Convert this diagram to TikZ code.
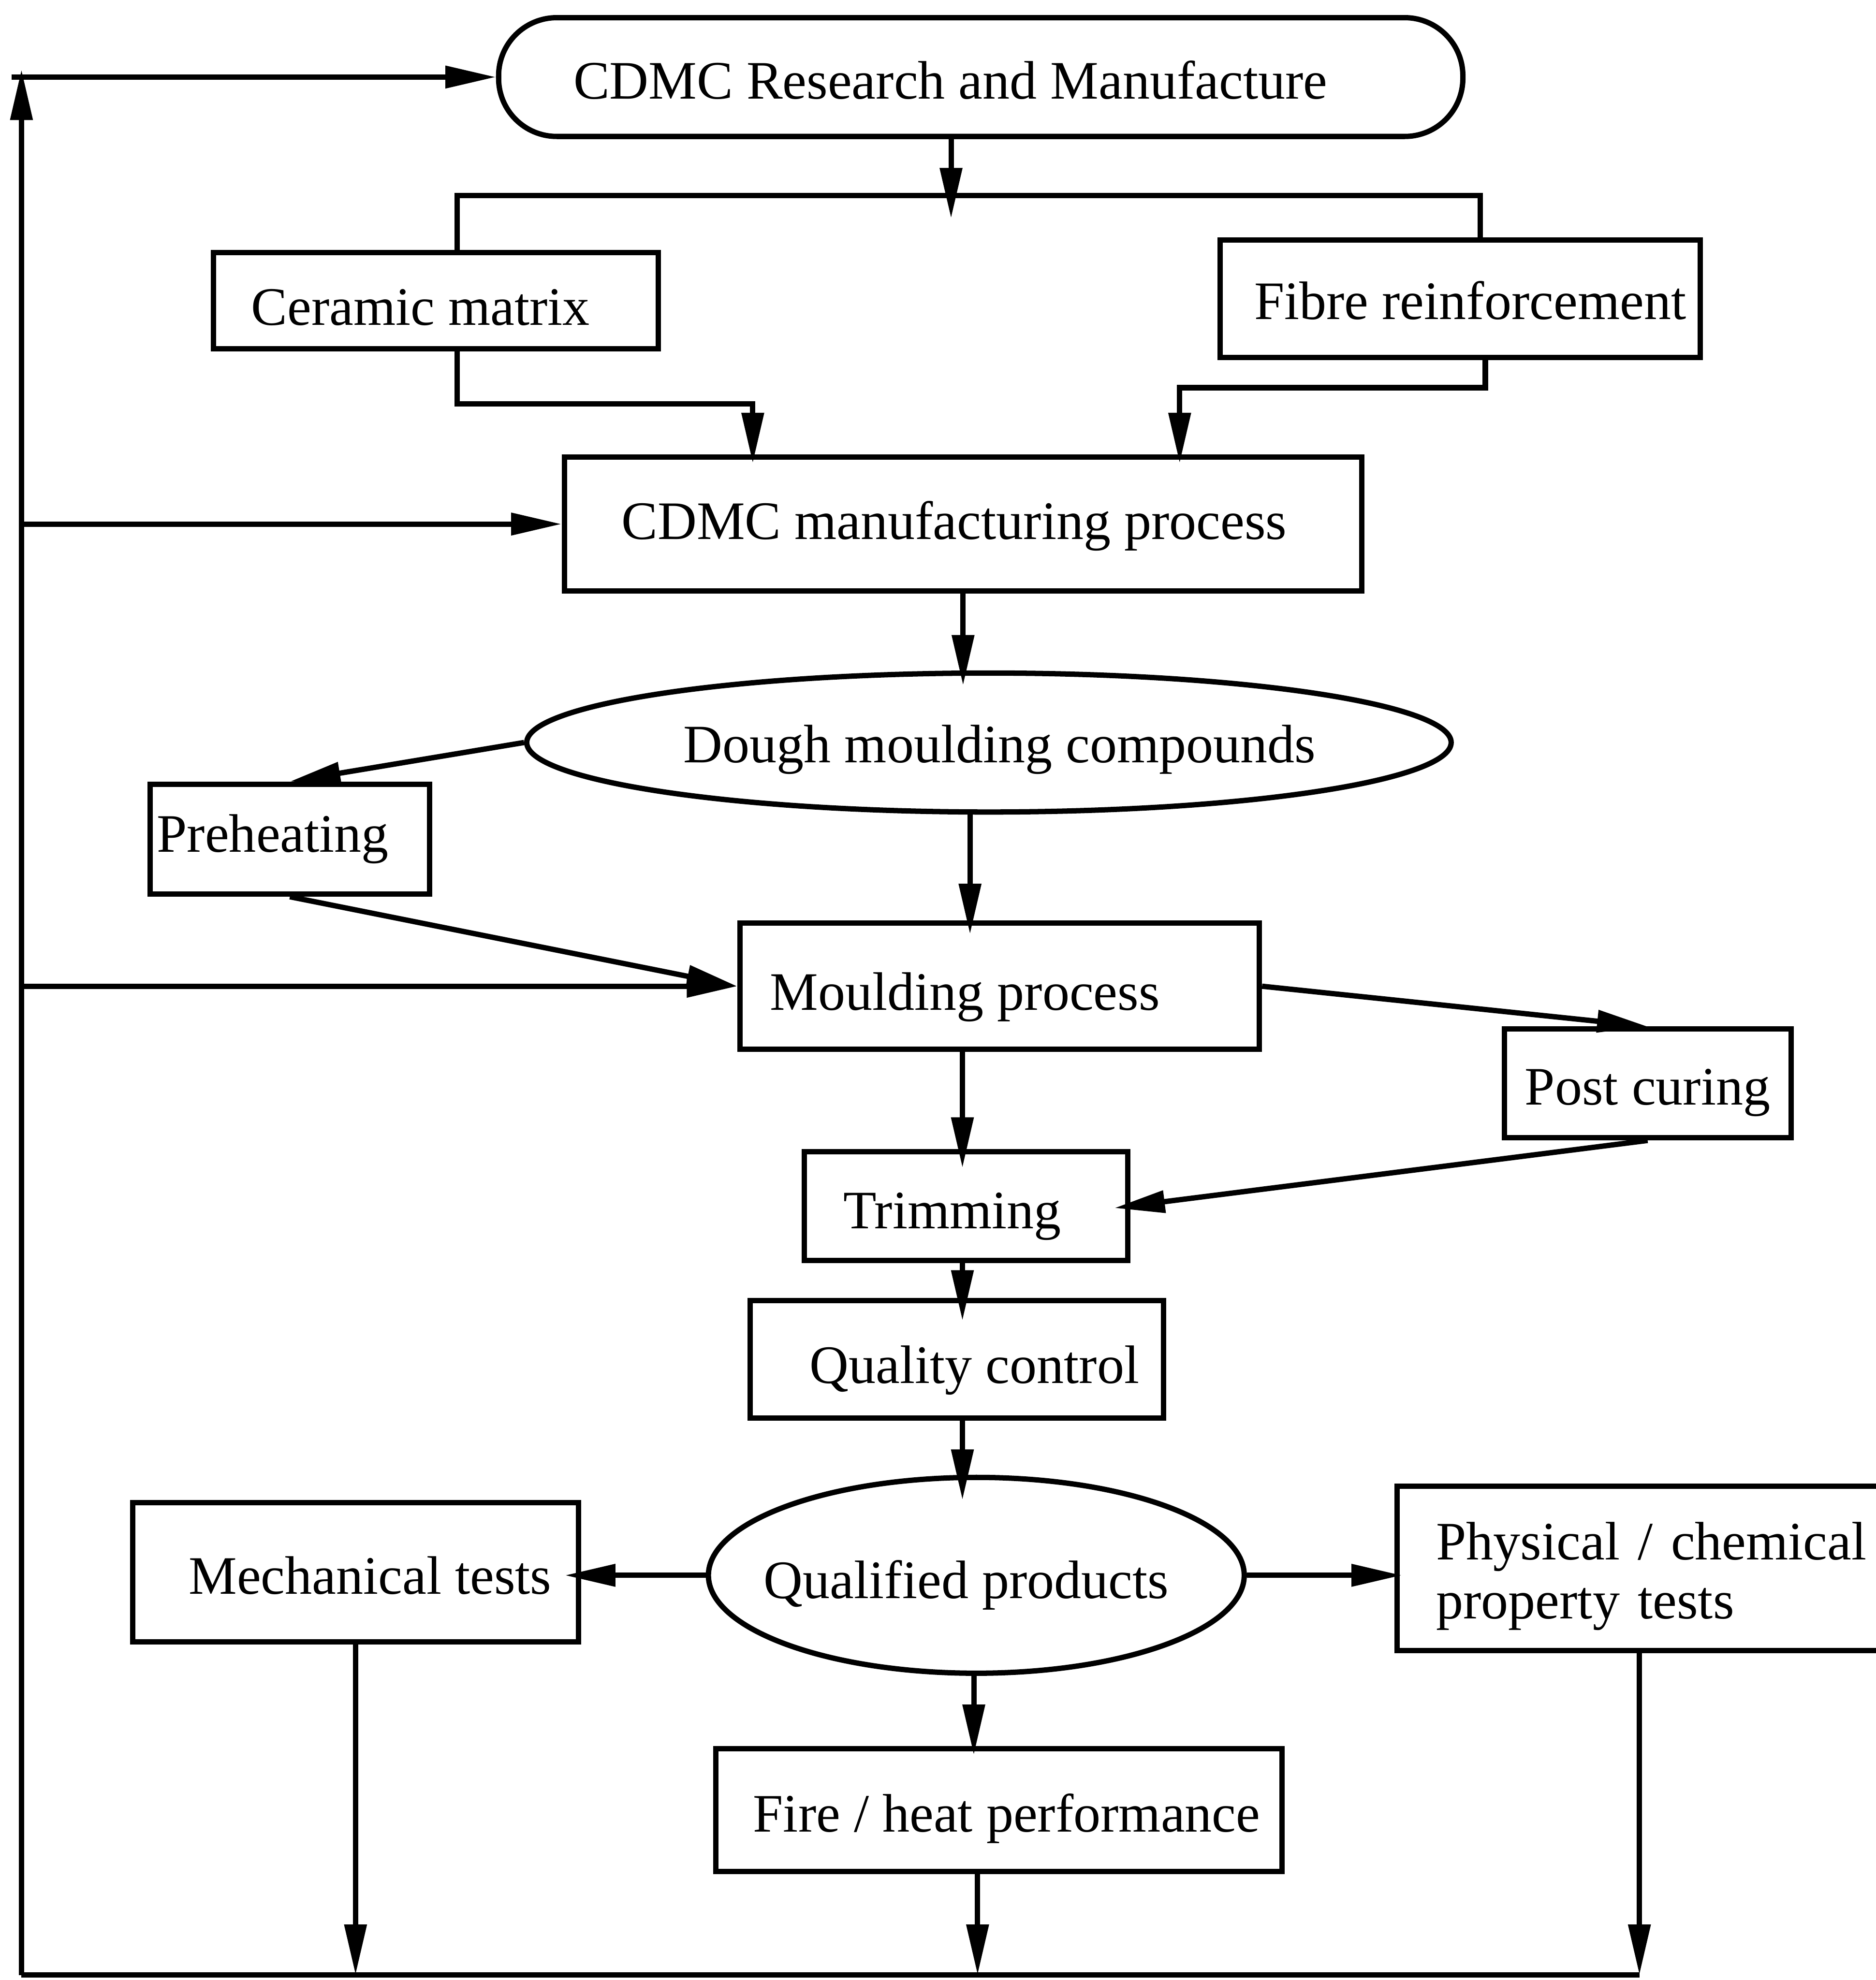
\documentclass[tikz,border=0pt]{standalone}
\usepackage{fontspec}
\setmainfont{Liberation Serif}
\usetikzlibrary{arrows.meta,shapes.geometric}
\begin{document}
\begin{tikzpicture}[x=0.01cm,y=-0.01cm,
  every node/.style={font=\fontsize{12.2}{13.2}\selectfont},
  ln/.style={line width=1.2pt},
  bx/.style={draw, line width=1.2pt, rectangle, inner sep=0pt},
  el/.style={draw, line width=1.2pt, ellipse, inner sep=0pt},
  arr/.style={line width=1.2pt, -{Triangle[length=0.4cm,width=0.17cm]}},
  tipin/.style={shorten >=-#1},
  tx/.style={execute at begin node={\hspace*{#1}}},
]
\useasboundingbox (0,0) rectangle (1485,1568);

% nodes
\node[bx, rounded corners=0.46cm, minimum width=7.63cm, minimum height=0.94cm, text height=10pt, tx=-0.48cm] (top) at (776.5,61) {CDMC Research and Manufacture};
\node[bx, minimum width=3.52cm, minimum height=0.76cm, text height=11.1pt, tx=-0.24cm] (cer) at (345,238) {Ceramic matrix};
\node[bx, minimum width=3.80cm, minimum height=0.93cm, text height=9.4pt, tx=0.16cm] (fib) at (1156,236.5) {Fibre reinforcement};
\node[bx, minimum width=6.31cm, minimum height=1.06cm, text height=9.4pt, tx=-0.14cm] (mfg) at (762.5,415) {CDMC manufacturing process};
\node[el, minimum width=7.30cm, minimum height=1.10cm, text height=11.7pt, tx=0.17cm] (dough) at (783,588) {Dough moulding compounds};
\node[bx, minimum width=2.21cm, minimum height=0.87cm, tx=-0.27cm] (pre) at (229.5,664.5) {Preheating};
\node[bx, minimum width=4.11cm, minimum height=1.00cm, text height=13.4pt, tx=-0.55cm] (mould) at (791.5,781) {Moulding process};
\node[bx, minimum width=2.27cm, minimum height=0.86cm, text height=12.3pt] (post) at (1304.5,858) {Post curing};
\node[bx, minimum width=2.56cm, minimum height=0.86cm, text height=12.9pt, tx=-0.22cm] (trim) at (765,955) {Trimming};
\node[bx, minimum width=3.27cm, minimum height=0.93cm, text height=13.4pt, tx=0.28cm] (qc) at (757.5,1076.5) {Quality control};
\node[el, minimum width=4.24cm, minimum height=1.55cm, inner xsep=-0.03cm, text height=12.9pt, tx=-0.16cm] (qp) at (773,1247.5) {Qualified products};
\node[bx, minimum width=3.53cm, minimum height=1.10cm, text height=10pt, tx=0.23cm] (mech) at (281.5,1245) {Mechanical tests};
\node[bx, anchor=west, minimum height=1.30cm, text width=3.9cm, align=left, inner xsep=0.31cm, text height=12pt] (phys) at (1104,1242) {Physical / chemical\\property tests};
\node[bx, minimum width=4.48cm, minimum height=0.97cm, text height=12.3pt, tx=0.12cm] (fire) at (791,1433.5) {Fire / heat performance};

% helper coordinates
\coordinate (Ltop) at (17,55);
\coordinate (Lbot) at (17,1564);
\coordinate (Bend) at (1298,1564);
\coordinate (hl0) at (9,0);
\coordinate (ttip) at (753,173);
\coordinate (barL) at (362,155);
\coordinate (barR) at (1172,155);
\coordinate (cm) at (596,320);
\coordinate (fdrop) at (1176,307);
\coordinate (fm) at (934,307);
\coordinate (c2) at (768,0);
\coordinate (c3) at (762,0);
\coordinate (c4) at (771,0);
\coordinate (c5) at (774,0);

% feedback loop
\draw[arr] (Lbot) -- (Ltop);
\draw[ln] (Lbot) -- (Bend);
\draw[arr] (hl0 |- top.west) -- (top.west);
\draw[arr] (Lbot |- mfg.west) -- (mfg.west);
\draw[arr] (Lbot |- mould.west) -- (mould.west);

% top part
\draw[arr] (ttip |- top.south) -- (ttip);
\draw[ln] (barL |- cer.north) -- (barL) -- (barR) -- (barR |- fib.north);
\draw[arr, tipin=0.07cm] (cer.south -| barL) |- (cm) -- (cm |- mfg.north);
\draw[arr, tipin=0.07cm] (fib.south -| fdrop) -- (fdrop) -- (fm) -- (fm |- mfg.north);
\draw[arr, tipin=0.12cm] (mfg.south) -- (mfg.south |- dough.north);

% middle
\draw[arr] (dough.west) -- (pre.north);
\draw[arr] (pre.south) -- (mould.west);
\draw[arr, tipin=0.11cm] (c2 |- dough.south) -- (c2 |- mould.north);
\draw[arr] (mould.east) -- (post.north);
\draw[arr, tipin=0.13cm] (post.south) -- (trim.east);
\draw[arr, tipin=0.15cm] (c3 |- mould.south) -- (c3 |- trim.north);
\draw[arr, tipin=0.18cm] (c3 |- trim.south) -- (c3 |- qc.north);
\draw[arr, tipin=0.2cm] (c3 |- qc.south) -- (c3 |- qp.north);

% bottom
\draw[arr, tipin=0.13cm] (qp.west) -- (qp.west -| mech.east);
\draw[arr, tipin=0.06cm] (qp.east) -- (qp.east -| phys.west);
\draw[arr, tipin=0.07cm] (c4 |- qp.south) -- (c4 |- fire.north);
\draw[arr] (mech.south) -- (mech.south |- Lbot);
\draw[arr] (c5 |- fire.south) -- (c5 |- Lbot);
\draw[arr] (Bend |- phys.south) -- (Bend);
\end{tikzpicture}
\end{document}
